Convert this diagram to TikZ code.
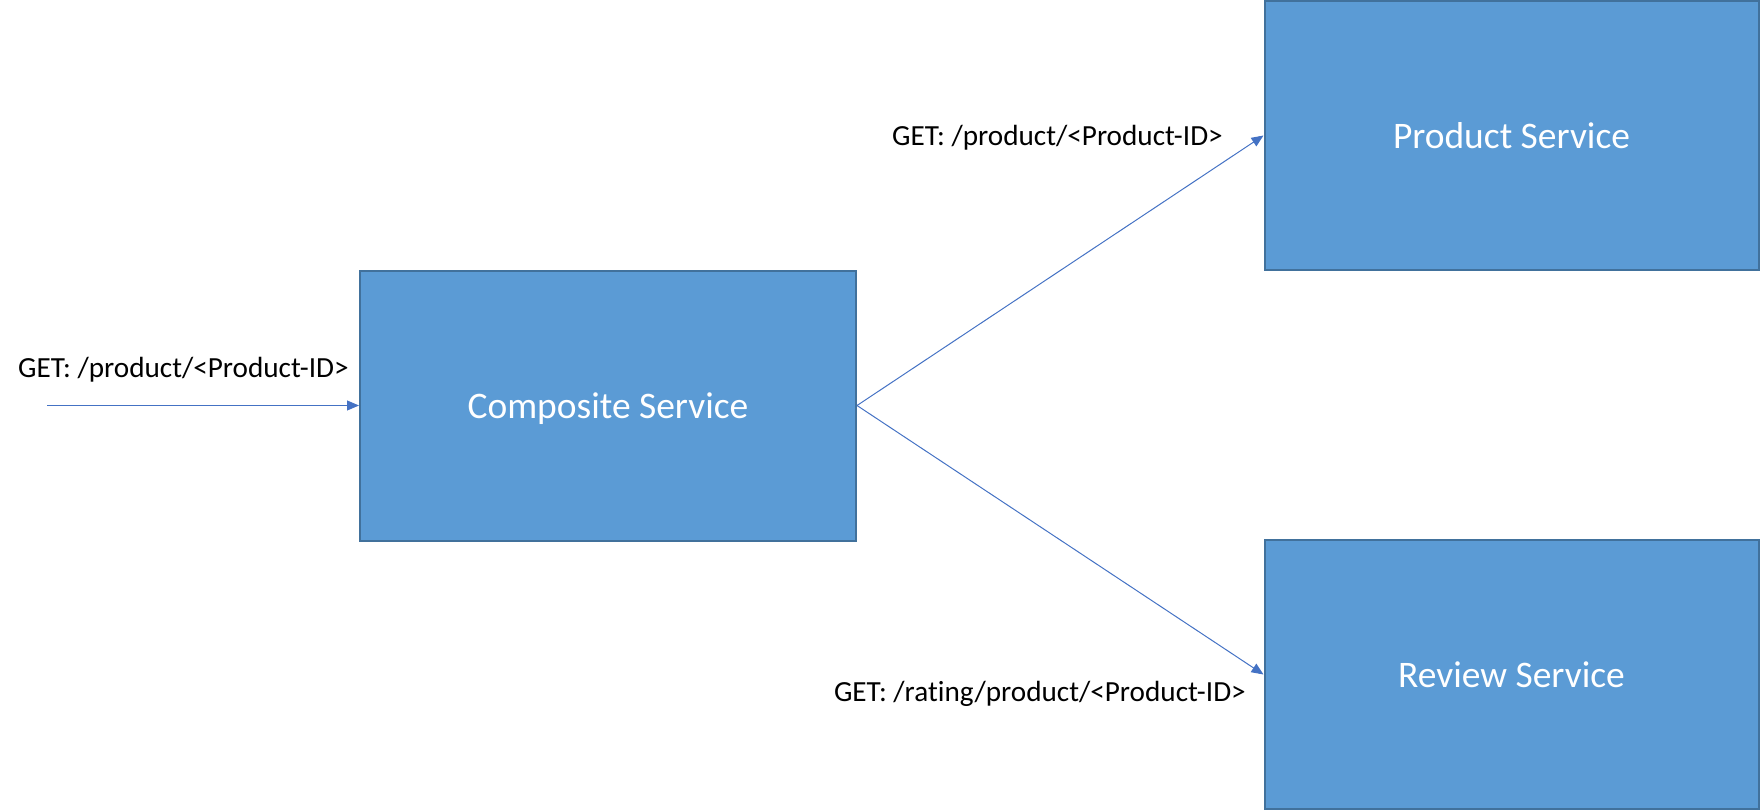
\documentclass[tikz,border=0pt]{standalone}
\usepackage{fontspec}
\setmainfont[Ligatures=NoCommon]{Carlito}
\usetikzlibrary{arrows.meta}
\definecolor{boxfill}{HTML}{5B9BD5}
\definecolor{boxline}{HTML}{41719C}
\definecolor{arrowc}{HTML}{4472C4}
\tikzset{
  svc/.style={draw=boxline, line width=2bp, fill=boxfill, text=white, inner sep=0pt,
    font=\fontsize{37.6}{44}\selectfont, minimum width=494bp, minimum height=269bp,
    text depth=-4bp},
  conn/.style={draw=arrowc, line width=1bp, -{Triangle[length=12bp,width=10bp]}},
  lbl/.style={font=\fontsize{29.3}{35}\selectfont, inner sep=0pt, text=black}
}
\begin{document}
\begin{tikzpicture}[x=1bp,y=-1bp]
\useasboundingbox (0,0) rectangle (1760,811);
\node[svc, minimum width=496bp, minimum height=270bp] (comp) at (608,405.5) {Composite Service};
\node[svc] (prod) at (1511.5,135.5) {Product Service};
\node[svc] (rev) at (1511.5,674.5) {Review Service};
\coordinate (src) at (47,405.5);
\draw[conn] (src) -- (comp.west);
\draw[conn] (comp.east) -- (prod.west);
\draw[conn] (comp.east) -- (rev.west);
\node[lbl, anchor=west] (l1) at (18,370) {GET: /product/<Product-ID>};
\node[lbl, anchor=east] (l2) at (1223,138) {GET: /product/<Product-ID>};
\node[lbl, anchor=east] (l3) at (1246,694) {GET: /rating/product/<Product-ID>};
\end{tikzpicture}
\end{document}
